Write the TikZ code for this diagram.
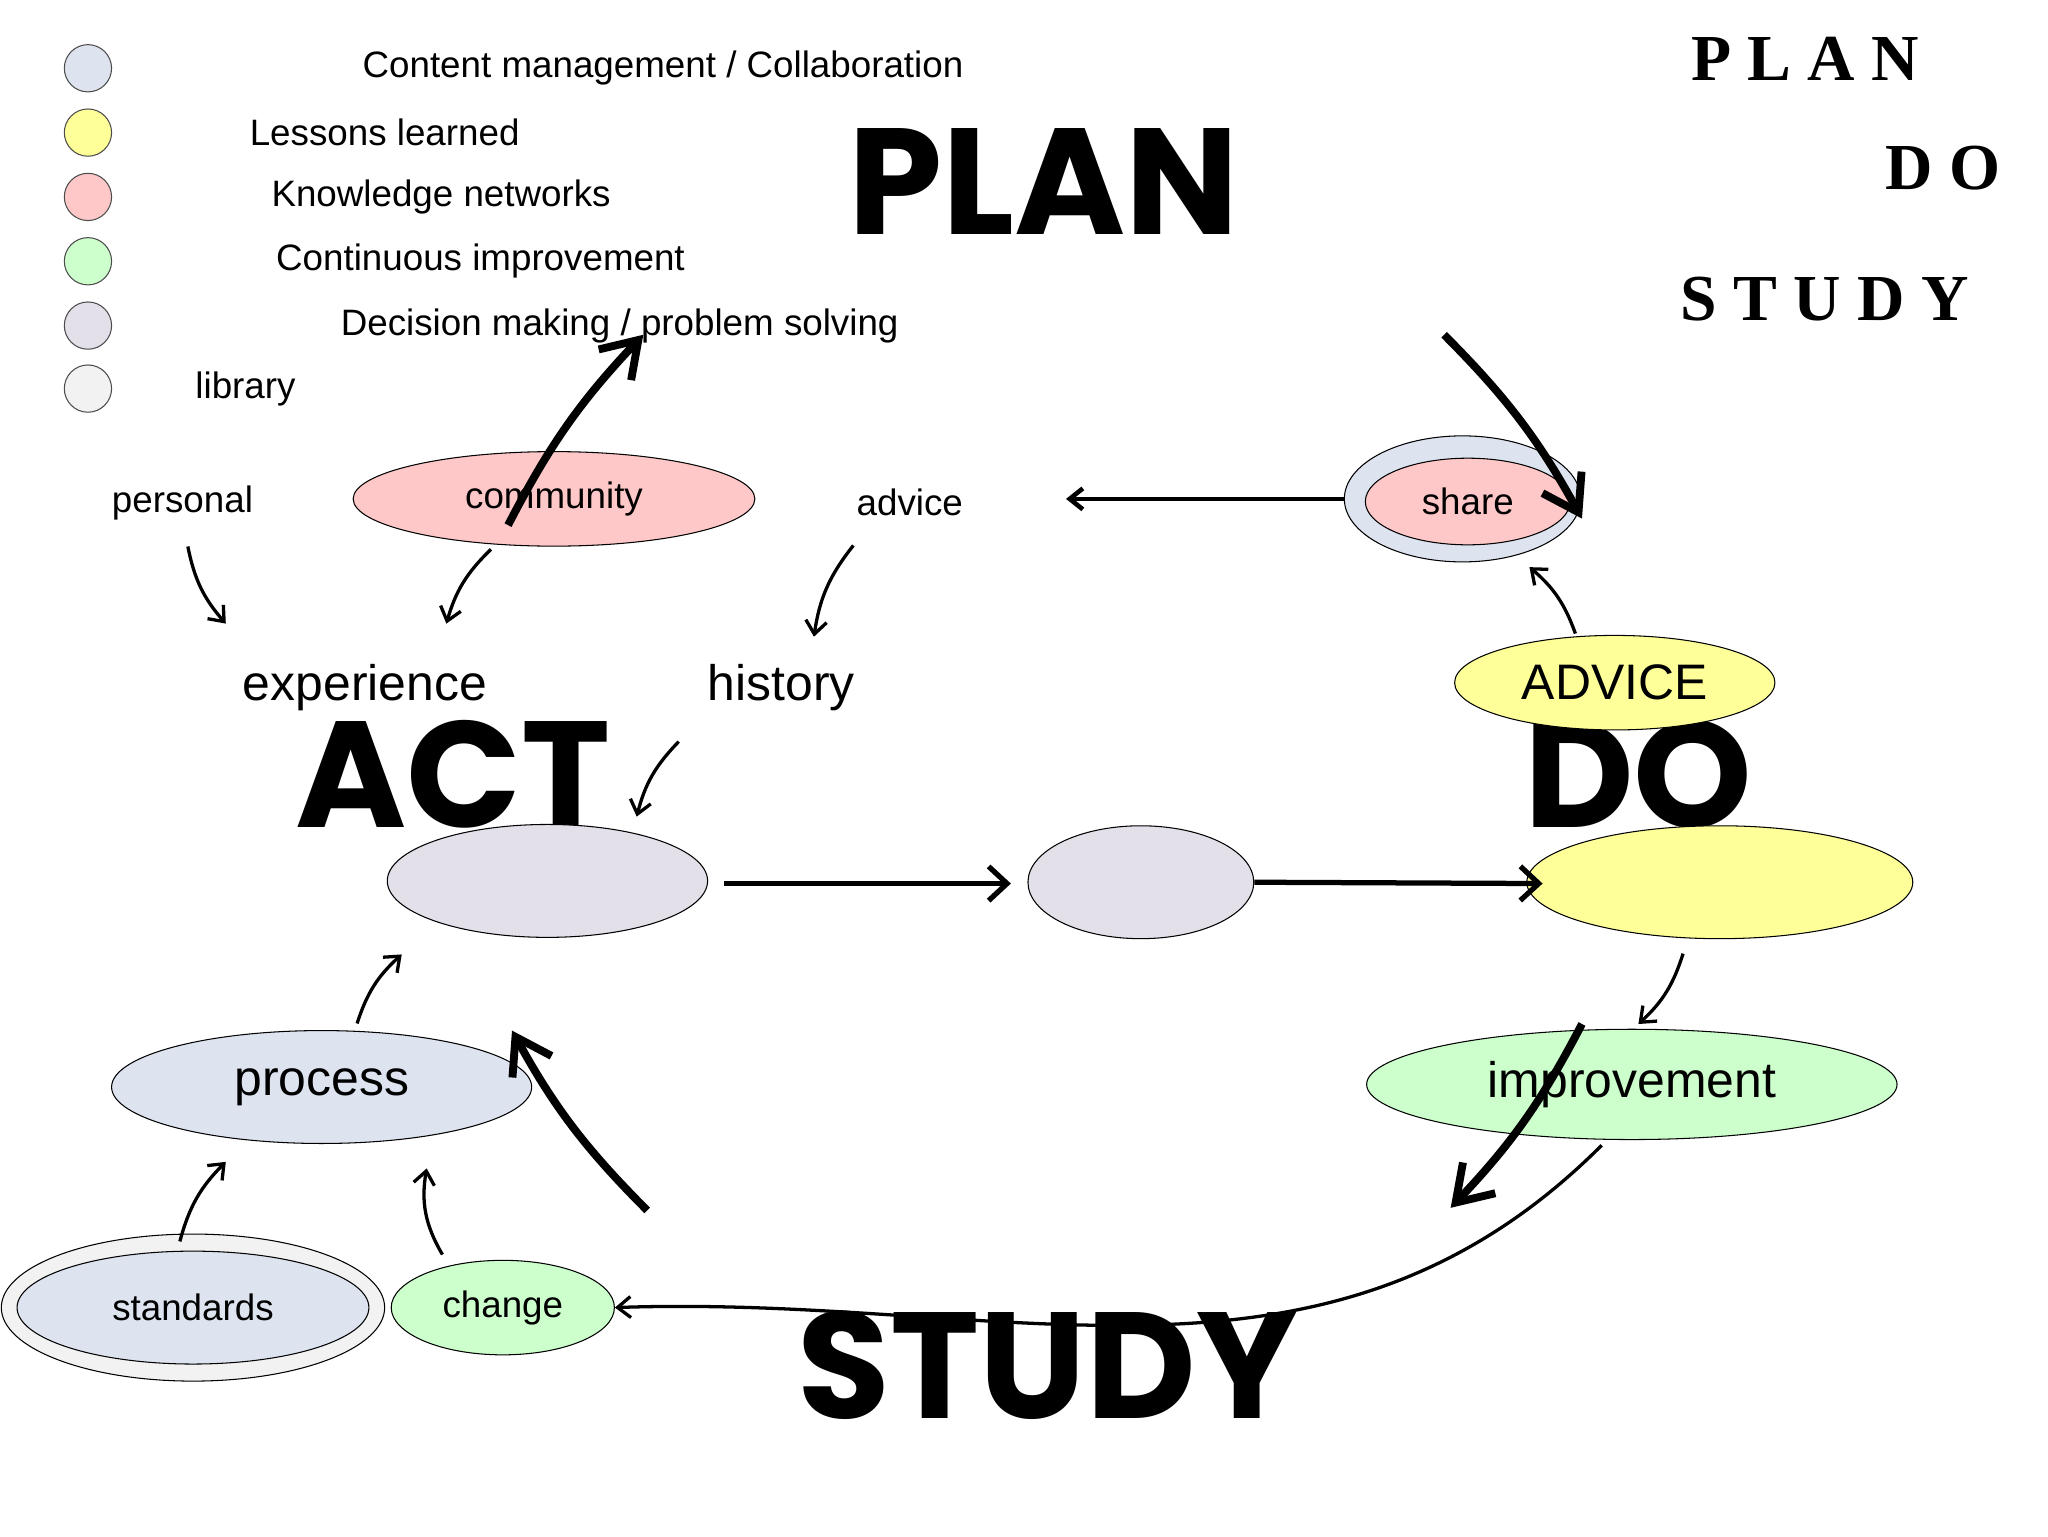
\documentclass[tikz,border=0pt]{standalone}
\usepackage{fontspec}
\setmainfont{Liberation Sans}
\newfontfamily\bigfont{Poppins}
\newfontfamily\serifb{Liberation Serif}
\usetikzlibrary{arrows.meta,shapes.geometric}
\definecolor{cblue}{HTML}{DDE4F0}
\definecolor{cyel}{HTML}{FFFF99}
\definecolor{cpink}{HTML}{FFC8C8}
\definecolor{cgreen}{HTML}{CCFFCC}
\definecolor{clav}{HTML}{E3E0EA}
\definecolor{cgrey}{HTML}{F2F2F2}
\tikzset{
 ell/.style={ellipse,draw=black,line width=0.8pt,inner sep=0pt},
 leg/.style={circle,draw=black!70,line width=0.8pt,minimum size=36pt,inner sep=0pt},
 lbl/.style={font=\fontsize{28}{30}\selectfont,inner sep=0pt},
 big/.style={font=\bigfont\bfseries\fontsize{115}{115}\selectfont,inner sep=0pt},
 corner/.style={font=\serifb\bfseries\fontsize{50}{50}\selectfont,inner sep=0pt},
 thin/.style={-{Straight Barb[length=10pt,width=16pt]},line width=2.5pt},
 thick/.style={-{Straight Barb[length=26pt,width=34pt]},line width=6pt},
 flow/.style={-{Straight Barb[length=14pt,width=26pt]},line width=4pt}
}
\begin{document}
\begin{tikzpicture}[x=1pt,y=-1pt]
\useasboundingbox (0,0) rectangle (1560,1170);
% legend
\foreach \yy/\cc/\nn in {52/cblue/l1,101/cyel/l2,150/cpink/l3,199/cgreen/l4,248/clav/l5,296/cgrey/l6}
  \node[leg,fill=\cc] (\nn) at (67,\yy) {};
\node[lbl] (t1) at (505,52) {Content management / Collaboration};
\node[lbl] (t2) at (293,101) {Lessons learned};
\node[lbl] (t3) at (336,150) {Knowledge networks};
\node[lbl] (t4) at (366,199) {Continuous improvement};
\node[lbl] (t5) at (472,248) {Decision making / problem solving};
\node[lbl] (t6) at (187,296) {library};
% big words
\node[big] (wplan) at (795,138) {PLAN};
\node[big] (wact) at (345,590) {ACT};
\node[big] (wdo) at (1248,590) {DO};
\node[big] (wstudy) at (798,1040) {STUDY};
\node[corner] (c1) at (1375,45) {P L A N};
\node[corner] (c2) at (1480,128) {D O};
\node[corner] (c3) at (1390,228) {S T U D Y};
% ellipses
\node[ell,fill=cpink,minimum width=306pt,minimum height=72pt,lbl] (comm) at (422,380) {community};
\node[ell,fill=cblue,minimum width=180pt,minimum height=96pt] (shareo) at (1114,380) {};
\node[ell,fill=cpink,minimum width=156pt,minimum height=66pt,lbl] (share) at (1118,382) {share};
\node[ell,fill=cyel,minimum width=244pt,minimum height=72pt,font=\fontsize{38}{40}\selectfont] (advice2) at (1230,520) {ADVICE};
\node[ell,fill=clav,minimum width=244pt,minimum height=86pt] (act) at (417,671) {};
\node[ell,fill=clav,minimum width=172pt,minimum height=86pt] (mid) at (869,672) {};
\node[ell,fill=cyel,minimum width=294pt,minimum height=86pt] (do) at (1310,672) {};
\node[ell,fill=cgreen,minimum width=404pt,minimum height=84pt,font=\fontsize{38}{40}\selectfont] (impr) at (1243,826) {improvement};
\node[ell,fill=cblue,minimum width=320pt,minimum height=86pt,font=\fontsize{38}{40}\selectfont] (proc) at (245,828) {process};
\node[ell,fill=cgrey,minimum width=292pt,minimum height=112pt] (stdo) at (147,996) {};
\node[ell,fill=cblue,minimum width=268pt,minimum height=86pt,lbl] (std) at (147,996) {standards};
\node[ell,fill=cgreen,minimum width=170pt,minimum height=72pt,lbl] (chg) at (383,996) {change};
% labels
\node[lbl] (pers) at (139,383) {personal};
\node[lbl] (adv) at (693,383) {advice};
\node[font=\fontsize{38}{40}\selectfont,inner sep=0pt] (exp) at (278,524) {experience};
\node[font=\fontsize{38}{40}\selectfont,inner sep=0pt] (hist) at (595,524) {history};
% thin arrows
\coordinate (pe) at (172,475);
\draw[thin] (pers.south west)++(58,20) to[bend right=15] (pe);
\coordinate (ce) at (340,475);
\draw[thin] (comm.south)++(-48,2) to[bend right=15] (ce);
\coordinate (ah) at (620,485);
\draw[thin] (adv.south)++(-43,22) to[bend right=15] (ah);
\coordinate (ha) at (485,622);
\draw[thin] (hist.south)++(-78,23) to[bend right=15] (ha);
\coordinate (pa) at (306,727);
\draw[thin] (proc.north)++(27,-5) to[bend left=15] (pa);
\coordinate (sp) at (172,885);
\draw[thin] (std.north)++(-10,-7) to[bend left=15] (sp);
\coordinate (cp) at (325,890);
\draw[thin] (chg.north)++(-46,-4) to[bend left=20] (cp);
\coordinate (as) at (1165,432);
\draw[thin] (advice2.north)++(-30,-1) to[bend right=15] (as);
\coordinate (di) at (1248,780);
\draw[thin] (do.south)++(-28,11) to[bend left=15] (di);
\draw[thin] (impr.south)++(-23,4) to[out=-135,in=2] (chg.east);
\coordinate (sa) at (812,380);
\draw[thin,line width=3.5pt] (shareo.west) -- (sa);
\coordinate (m1) at (770,673);
\draw[flow] (act.east)++(12,2) -- (m1);
\draw[flow] (mid.east) -- (1175,673) coordinate (m2);
% thick arrows
\coordinate (a1s) at (387,400); \coordinate (a1e) at (490,255);
\draw[thick] (a1s) to[bend left=8] (a1e);
\coordinate (a2s) at (1100,255); \coordinate (a2e) at (1205,395);
\draw[thick] (a2s) to[bend left=8] (a2e);
\coordinate (a3s) at (1205,780); \coordinate (a3e) at (1105,920);
\draw[thick] (a3s) to[bend left=8] (a3e);
\coordinate (a4s) at (493,922); \coordinate (a4e) at (390,785);
\draw[thick] (a4s) to[bend left=8] (a4e);
\end{tikzpicture}
\end{document}
